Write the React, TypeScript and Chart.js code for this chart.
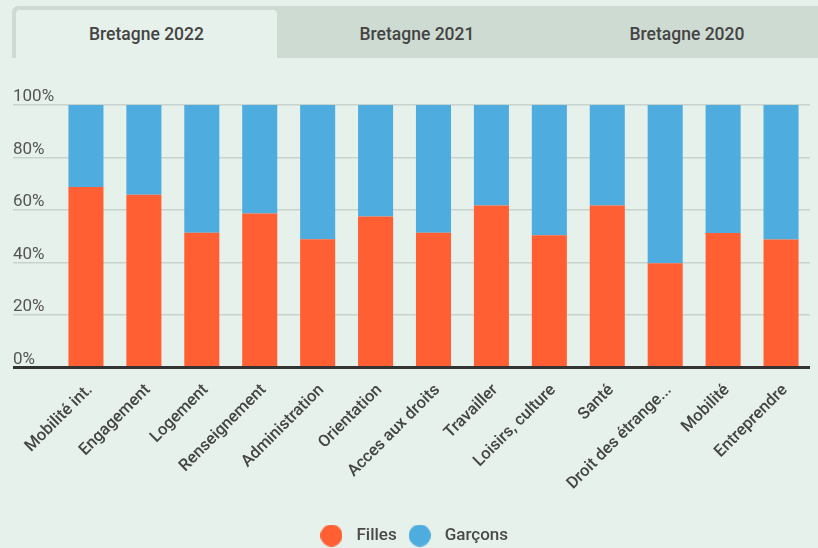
import React, { useEffect, useRef } from "react";
import { Chart, registerables } from "chart.js";

Chart.register(...registerables);

const categories = [
  "Mobilité int.",
  "Engagement",
  "Logement",
  "Renseignement",
  "Administration",
  "Orientation",
  "Acces aux droits",
  "Travailler",
  "Loisirs, culture",
  "Santé",
  "Droit des étrange...",
  "Mobilité",
  "Entreprendre",
];

const filles = [68.8, 65.8, 51.3, 58.7, 48.9, 57.5, 51.3, 61.7, 50.4, 61.7, 39.7, 51.2, 48.8];
const garcons = [31.2, 34.2, 48.7, 41.3, 51.1, 42.5, 48.7, 38.3, 49.6, 38.3, 60.3, 48.8, 51.2];

const tabs = ["Bretagne 2022", "Bretagne 2021", "Bretagne 2020"];
const yTicks = [0, 20, 40, 60, 80, 100];

const BG = "#e5f1ea";
const TAB_BG = "#cedbd3";
const ORANGE = "#ff5f33";
const BLUE = "#4facdf";
const TEXT = "#444444";
const GRID = "#c9d3cd";

function circleImage(color: string, d: number) {
  const c = document.createElement("canvas");
  c.width = d;
  c.height = d;
  const ctx = c.getContext("2d");
  if (ctx) {
    ctx.fillStyle = color;
    ctx.beginPath();
    ctx.arc(d / 2, d / 2, d / 2, 0, Math.PI * 2);
    ctx.fill();
  }
  return c;
}

function BarChart() {
  const ref = useRef<HTMLCanvasElement | null>(null);
  useEffect(() => {
    if (!ref.current) return;
    const markers = [circleImage(ORANGE, 22), circleImage(BLUE, 22)];
    const chart = new Chart(ref.current, {
      type: "bar",
      data: {
        labels: categories,
        datasets: [
          {
            label: "Filles",
            data: filles,
            backgroundColor: ORANGE,
            borderWidth: 0,
            categoryPercentage: 1,
            barPercentage: 0.605,
          },
          {
            label: "Garçons",
            data: garcons,
            backgroundColor: BLUE,
            borderWidth: 0,
            categoryPercentage: 1,
            barPercentage: 0.605,
          },
        ],
      },
      options: {
        animation: false,
        responsive: false,
        maintainAspectRatio: false,
        layout: { padding: { left: 13, right: 8, top: 45, bottom: 0 } },
        plugins: {
          tooltip: { enabled: false },
          legend: {
            position: "bottom",
            labels: {
              usePointStyle: true,
              pointStyleWidth: 33,
              boxHeight: 17,
              color: "#4a4a4a",
              font: { family: "Roboto", size: 17, weight: "500" },
              padding: 6.5,
              generateLabels: (ch: any) =>
                (Chart.defaults.plugins.legend.labels as any)
                  .generateLabels(ch)
                  .map((l: any, i: number) => ({ ...l, pointStyle: markers[i] })),
            },
          },
        },
        scales: {
          x: {
            stacked: true,
            border: { display: false },
            grid: { display: false },
            afterFit: (axis: any) => {
              axis.height = 153;
            },
            ticks: {
              color: TEXT,
              font: { family: "Roboto", size: 16.5, weight: "500" },
              minRotation: 45,
              maxRotation: 45,
              autoSkip: false,
              padding: 5,
              labelOffset: 4,
            },
          },
          y: {
            stacked: true,
            min: 0,
            max: 100,
            afterBuildTicks: (axis: any) => {
              axis.ticks = yTicks.map((v) => ({ value: v }));
            },
            afterFit: (axis: any) => {
              axis.width = 44;
            },
            border: { display: false },
            grid: {
              drawTicks: true,
              tickLength: 44,
              color: (ctx: any) => (ctx.tick && ctx.tick.value === 0 ? "#333333" : GRID),
              lineWidth: (ctx: any) => (ctx.tick && ctx.tick.value === 0 ? 3 : 1.5),
            },
            ticks: {
              mirror: true,
              padding: -44,
              labelOffset: -8,
              color: "#555555",
              font: { family: "Roboto", size: 17 },
              callback: (v: any) => v + "%",
            },
          },
        },
      },
    });
    return () => chart.destroy();
  }, []);
  return <canvas ref={ref} width={818} height={494} style={{ display: "block" }} />;
}

export default function App() {
  return (
    <div
      style={{
        position: "absolute",
        left: 0,
        top: 0,
        width: 818,
        height: 548,
        background: BG,
        overflow: "hidden",
        fontFamily: "Roboto, sans-serif",
      }}
    >
      <div
        style={{
          position: "absolute",
          left: 12,
          top: 6,
          width: 806,
          height: 52,
          background: TAB_BG,
          borderTopLeftRadius: 6,
        }}
      >
        {tabs.map((t, i) => (
          <div
            key={t}
            style={{
              position: "absolute",
              left: i === 0 ? 4 : 270 * i,
              top: i === 0 ? 4 : 0,
              width: i === 0 ? 261 : 270,
              height: i === 0 ? 48 : 52,
              background: i === 0 ? BG : "transparent",
              borderTopLeftRadius: 4,
              borderTopRightRadius: 4,
              display: "flex",
              alignItems: "center",
              justifyContent: "center",
              paddingTop: i === 0 ? 0 : 4,
              boxSizing: "border-box",
              color: TEXT,
              fontSize: 17.5,
              fontWeight: 500,
            }}
          >
            {t}
          </div>
        ))}
      </div>
      <div style={{ position: "absolute", left: 0, top: 60 }}>
        <BarChart />
      </div>
    </div>
  );
}
